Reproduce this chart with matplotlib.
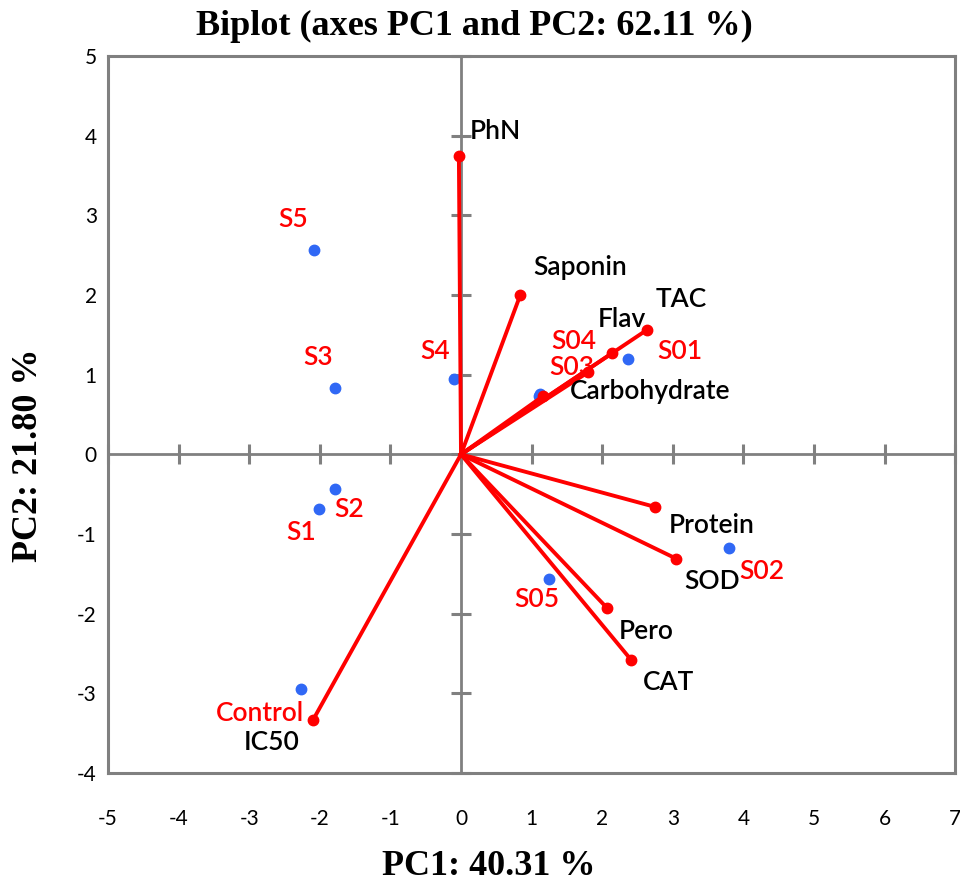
import numpy as np
import matplotlib
matplotlib.use('Agg')
import matplotlib.pyplot as plt

plt.rcParams['axes.unicode_minus'] = False

# variables (red vectors)
var_names = ['PhN', 'Saponin', 'TAC', 'Flav', '', 'Carbohydrate',
             'Protein', 'SOD', 'Pero', 'CAT', 'IC50']
var_x = [-0.03, 0.84, 2.63, 2.14, 1.80, 1.16, 2.75, 3.05, 2.07, 2.41, -2.10]
var_y = [3.75, 2.00, 1.56, 1.27, 1.03, 0.73, -0.66, -1.31, -1.93, -2.58, -3.34]

# observations (blue points)
obs_names = ['S5', 'S3', 'S4', 'S04', 'S03', 'S01', 'S1', 'S2',
             'Control', 'S05', 'S02']
obs_x = [-2.08, -1.79, -0.10, 1.12, 1.10, 2.37, -2.01, -1.79, -2.27, 1.25, 3.80]
obs_y = [2.57, 0.83, 0.94, 0.76, 0.73, 1.20, -0.69, -0.44, -2.95, -1.57, -1.17]

x_ticks = list(range(-5, 8))
y_ticks = list(range(-4, 6))

# label offsets in pixels (dx, dy, ha) from each point
var_off = {'PhN': (11, 24, 'left'), 'Saponin': (60, 28, 'center'),
           'TAC': (35, 31, 'center'), 'Flav': (10, 34, 'center'),
           'Carbohydrate': (27, 5, 'left'), 'Protein': (57, -19, 'center'),
           'SOD': (36, -23, 'center'), 'Pero': (39, -23, 'center'),
           'CAT': (37, -23, 'center'), 'IC50': (-41, -22, 'center')}
obs_off = {'S5': (-21, 30), 'S3': (-17, 31), 'S4': (-19, 28),
           'S04': (34, 52), 'S03': (33, 29), 'S01': (52, 7),
           'S1': (-18, -23), 'S2': (15, -20), 'Control': (-41, -24),
           'S05': (-12, -20), 'S02': (33, -24)}

RED = '#FF0000'
BLUE = '#3068F5'
GRAY = '#808080'

fig = plt.figure(figsize=(9.6, 8.86), dpi=100)
ax = fig.add_axes([0.1125, 0.1275, 0.8825, 0.8093])
ax.set_xlim(-5, 7)
ax.set_ylim(-4, 5)

# zero lines with cross ticks
ax.axhline(0, color=GRAY, lw=2, zorder=1)
ax.axvline(0, color=GRAY, lw=2, zorder=1)
ax.plot(x_ticks, [0] * len(x_ticks), ls='none', marker='|', ms=14,
        mew=2.2, color=GRAY, zorder=1, clip_on=False)
ax.plot([0] * len(y_ticks), y_ticks, ls='none', marker='_', ms=14,
        mew=2.2, color=GRAY, zorder=1, clip_on=False)

for spine in ax.spines.values():
    spine.set_color(GRAY)
    spine.set_linewidth(2.2)

ax.set_xticks(x_ticks)
ax.set_yticks(y_ticks)
ax.tick_params(length=0, labelsize=15)
ax.tick_params(axis='x', pad=26)
ax.tick_params(axis='y', pad=8)
for lab in ax.get_xticklabels() + ax.get_yticklabels():
    lab.set_family('Lato')

# vectors
for x, y in zip(var_x, var_y):
    ax.plot([0, x], [0, y], color=RED, lw=2.8, zorder=3)
ax.plot(var_x, var_y, ls='none', marker='o', ms=7.5, color=RED, zorder=4)

# observations
ax.plot(obs_x, obs_y, ls='none', marker='o', ms=7.5, color=BLUE, zorder=2)

lab_font = dict(family='Lato', fontsize=19, fontweight='semibold')
for name, x, y in zip(var_names, var_x, var_y):
    if not name:
        continue
    dx, dy, ha = var_off[name]
    ax.annotate(name, (x, y), xytext=(dx, dy), textcoords='offset pixels',
                ha=ha, va='center', color='black', zorder=5, **lab_font)
for name, x, y in zip(obs_names, obs_x, obs_y):
    dx, dy = obs_off[name]
    ax.annotate(name, (x, y), xytext=(dx, dy), textcoords='offset pixels',
                ha='center', va='center', color=RED, zorder=5, **lab_font)

serif = dict(family='Liberation Serif', fontweight='bold')
fig.text(0.494, 0.970, 'Biplot (axes PC1 and PC2: 62.11 %)', ha='center',
         va='center', fontsize=26, **serif)
fig.text(0.509, 0.022, 'PC1: 40.31 %', ha='center', va='center',
         fontsize=26, **serif)
fig.text(0.03, 0.486, 'PC2: 21.80 %', ha='center', va='center',
         rotation=90, fontsize=26, **serif)

fig.savefig('out.png', dpi=100)
